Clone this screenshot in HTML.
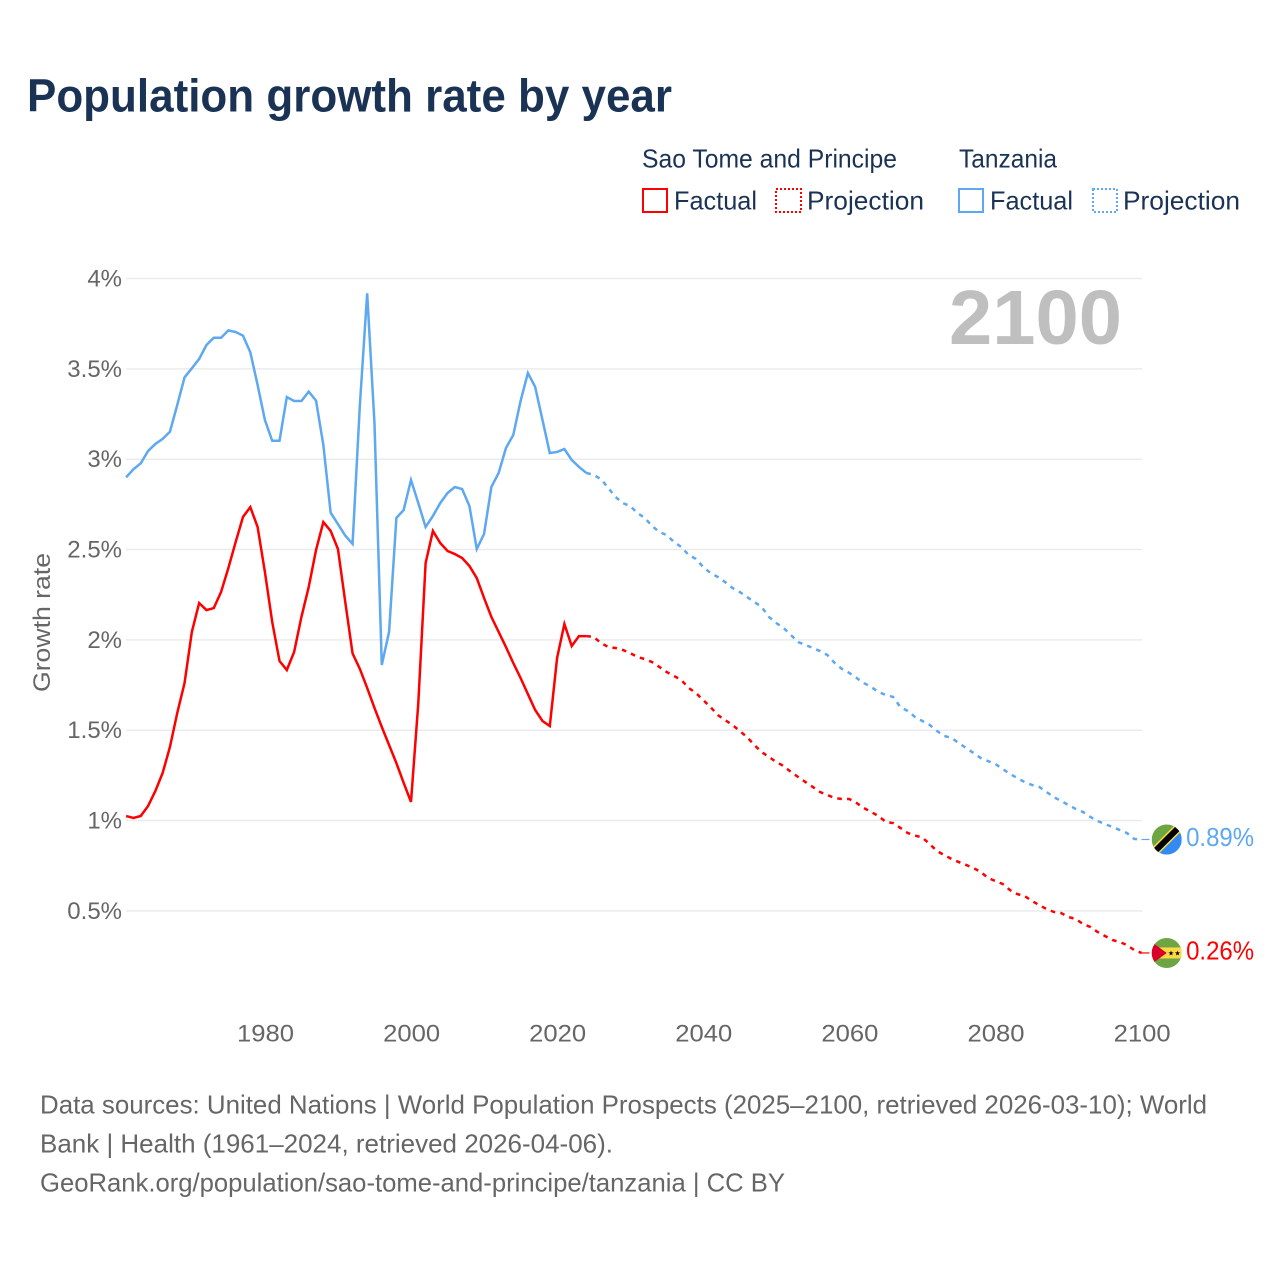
<!DOCTYPE html>
<html lang="en">
<head>
<meta charset="utf-8">
<title>Population growth rate by year</title>
<style>
html,body{margin:0;padding:0;background:#fff;}
svg{display:block;font-family:"Liberation Sans",sans-serif;}
</style>
</head>
<body>
<svg id="chart" xmlns="http://www.w3.org/2000/svg" width="1280" height="1280" viewBox="0 0 1280 1280">
  <rect x="0" y="0" width="1280" height="1280" fill="#ffffff"/>
  <text x="27" y="111.5" font-size="46" font-weight="700" fill="#1a3354" textLength="645" lengthAdjust="spacingAndGlyphs">Population growth rate by year</text>

  <g font-size="26" fill="#1a3354">
    <text x="642" y="167.5" textLength="255" lengthAdjust="spacingAndGlyphs">Sao Tome and Principe</text>
    <text x="959" y="167.5" textLength="98" lengthAdjust="spacingAndGlyphs">Tanzania</text>
    <g>
      <rect x="643" y="189" width="24" height="23" fill="none" stroke="#ff0000" stroke-width="2"/>
      <text x="674" y="209.5" textLength="83" lengthAdjust="spacingAndGlyphs">Factual</text>
    </g>
    <g>
      <rect x="776" y="189" width="25" height="23" fill="none" stroke="#ff0000" stroke-width="2" stroke-dasharray="2 2"/>
      <text x="807" y="209.5" textLength="117" lengthAdjust="spacingAndGlyphs">Projection</text>
    </g>
    <g>
      <rect x="959" y="189" width="24" height="23" fill="none" stroke="#5da8f0" stroke-width="2"/>
      <text x="990" y="209.5" textLength="83" lengthAdjust="spacingAndGlyphs">Factual</text>
    </g>
    <g>
      <rect x="1093" y="189" width="24" height="23" fill="none" stroke="#5da8f0" stroke-width="2" stroke-dasharray="2 2"/>
      <text x="1123" y="209.5" textLength="117" lengthAdjust="spacingAndGlyphs">Projection</text>
    </g>
  </g>

  <g id="grid"></g>
  <g id="y-axis"></g>
  <g id="x-axis"></g>

  <text transform="translate(50,692) rotate(-90)" font-size="24" fill="#666666" textLength="139" lengthAdjust="spacingAndGlyphs">Growth rate</text>
  <text x="949" y="344" font-size="77" font-weight="700" fill="#bfbfbf" textLength="173" lengthAdjust="spacingAndGlyphs">2100</text>

  <g id="series"></g>

  <defs>
    <clipPath id="flag-clip"><circle cx="0" cy="0" r="15"/></clipPath>
  </defs>
  <g id="flag-tanzania">
    <g clip-path="url(#flag-clip)">
      <rect x="-15" y="-15" width="30" height="30" fill="#6da544"/>
      <polygon points="15,-15 15,15 -15,15" fill="#338af3"/>
      <line x1="-15" y1="15" x2="15" y2="-15" stroke="#ffda44" stroke-width="9"/>
      <line x1="-15" y1="15" x2="15" y2="-15" stroke="#000000" stroke-width="6"/>
    </g>
  </g>
  <g id="flag-sao-tome">
    <g clip-path="url(#flag-clip)">
      <rect x="-15" y="-15" width="30" height="30" fill="#6da544"/>
      <rect x="-15" y="-5.5" width="30" height="11" fill="#ffda44"/>
      <polygon points="-15,-11 0,0 -15,11 -17,0" fill="#d80027"/>
      <text x="4.3" y="2.6" font-size="7" text-anchor="middle" fill="#000000">★</text>
      <text x="10.8" y="2.6" font-size="7" text-anchor="middle" fill="#000000">★</text>
    </g>
  </g>

  <g id="value-labels" font-size="25.5"></g>

  <g font-size="26" fill="#666666">
    <text x="40" y="1113.5" textLength="1167" lengthAdjust="spacingAndGlyphs">Data sources: United Nations | World Population Prospects (2025–2100, retrieved 2026-03-10); World</text>
    <text x="40" y="1152.5" textLength="573" lengthAdjust="spacingAndGlyphs">Bank | Health (1961–2024, retrieved 2026-04-06).</text>
    <text x="40" y="1191.5" textLength="745" lengthAdjust="spacingAndGlyphs">GeoRank.org/population/sao-tome-and-principe/tanzania | CC BY</text>
  </g>
</svg>

<script>
const firstYear = 1961;
const lastFactualYear = 2024;
const lastYear = 2100;

const yTicks = [0.5, 1, 1.5, 2, 2.5, 3, 3.5, 4];
const yTickLabels = ['0.5%', '1%', '1.5%', '2%', '2.5%', '3%', '3.5%', '4%'];
const xTicks = [1980, 2000, 2020, 2040, 2060, 2080, 2100];
const xTickLabels = ['1980', '2000', '2020', '2040', '2060', '2080', '2100'];
const endValueLabels = ['0.89%', '0.26%'];

// Annual growth rate (%) — factual 1961..2024
const tanzaniaFactual = [
  2.900,2.944,2.977,3.045,3.084,3.112,3.152,3.300,3.453,3.503,
  3.555,3.632,3.672,3.672,3.713,3.704,3.684,3.592,3.411,3.217,
  3.102,3.102,3.344,3.322,3.322,3.374,3.324,3.079,2.704,2.641,
  2.577,2.531,3.300,3.918,3.199,1.861,2.044,2.675,2.719,2.885,
  2.757,2.625,2.686,2.757,2.813,2.846,2.835,2.741,2.503,2.586,
  2.846,2.924,3.062,3.134,3.322,3.477,3.400,3.217,3.034,3.040,
  3.056,2.996,2.957,2.924
];
// Projection 2025..2100
const tanzaniaProjection = [
  2.913,2.890,2.841,2.791,2.757,2.741,2.702,2.675,2.630,2.597,
  2.580,2.542,2.514,2.470,2.448,2.403,2.370,2.348,2.320,2.287,
  2.265,2.237,2.210,2.182,2.127,2.093,2.066,2.027,1.988,1.972,
  1.955,1.938,1.916,1.872,1.839,1.817,1.789,1.761,1.739,1.711,
  1.695,1.684,1.628,1.606,1.573,1.551,1.529,1.496,1.468,1.457,
  1.429,1.401,1.374,1.346,1.329,1.313,1.285,1.258,1.235,1.213,
  1.197,1.186,1.158,1.130,1.108,1.086,1.064,1.047,1.020,0.997,
  0.981,0.964,0.948,0.931,0.898,0.895
];
const saoTomeFactual = [
  1.025,1.014,1.025,1.080,1.163,1.263,1.407,1.595,1.761,2.044,
  2.204,2.165,2.176,2.265,2.398,2.542,2.680,2.735,2.625,2.376,
  2.099,1.883,1.833,1.933,2.127,2.293,2.497,2.652,2.603,2.503,
  2.210,1.925,1.839,1.734,1.623,1.518,1.418,1.318,1.208,1.103,
  1.651,2.425,2.603,2.536,2.492,2.475,2.453,2.409,2.342,2.232,
  2.127,2.044,1.960,1.872,1.789,1.700,1.612,1.551,1.523,1.900,
  2.088,1.966,2.021,2.021
];
const saoTomeProjection = [
  2.016,1.983,1.960,1.955,1.944,1.927,1.905,1.894,1.877,1.850,
  1.822,1.800,1.778,1.734,1.706,1.667,1.628,1.584,1.556,1.529,
  1.496,1.462,1.418,1.379,1.352,1.324,1.302,1.269,1.241,1.213,
  1.186,1.158,1.141,1.125,1.119,1.119,1.097,1.069,1.047,1.025,
  0.992,0.986,0.959,0.931,0.917,0.906,0.870,0.831,0.809,0.787,
  0.770,0.754,0.737,0.715,0.682,0.665,0.649,0.615,0.593,0.582,
  0.555,0.532,0.510,0.494,0.488,0.466,0.455,0.427,0.411,0.383,
  0.361,0.339,0.328,0.311,0.283,0.267
];

const SVG_NS = 'http://www.w3.org/2000/svg';
const RED = '#ff0000';
const BLUE = '#5da8f0';

function xScale(year) { return 411.0 + (year - 2000) * 7.305; }
function yScale(value) { return 1001.2 - value * 180.67; }

function make(tag, attrs, parent) {
  const el = document.createElementNS(SVG_NS, tag);
  Object.keys(attrs).forEach(function (k) { el.setAttribute(k, attrs[k]); });
  parent.appendChild(el);
  return el;
}

const gridGroup = document.getElementById('grid');
const yGroup = document.getElementById('y-axis');
const xGroup = document.getElementById('x-axis');
const seriesGroup = document.getElementById('series');
const valueGroup = document.getElementById('value-labels');

yTicks.forEach(function (tick, i) {
  const line = make('line', {
    x1: xScale(firstYear), x2: xScale(lastYear) + 0.6,
    y1: yScale(tick), y2: yScale(tick),
    stroke: '#ebebeb', 'stroke-width': 1.5
  }, gridGroup);
  
  

  const label = make('text', {
    x: 122, y: yScale(tick) + 8, 'text-anchor': 'end',
    'font-size': 24, fill: '#666666'
  }, yGroup);
  label.textContent = yTickLabels[i];
  
  
});

xTicks.forEach(function (tick, i) {
  const label = make('text', {
    x: xScale(tick) - 27.9, y: 1041.5,
    'font-size': 24.5, fill: '#666666',
    textLength: 57, lengthAdjust: 'spacingAndGlyphs'
  }, xGroup);
  label.textContent = xTickLabels[i];
  
  
});

function pathFrom(values, startYear) {
  return values.map(function (v, i) {
    return (i === 0 ? 'M' : 'L') + xScale(startYear + i).toFixed(2) + ' ' + yScale(v).toFixed(2);
  }).join(' ');
}

function projectionPath(factual, projection) {
  const lastPoint = factual[factual.length - 1];
  return pathFrom([lastPoint].concat(projection), lastFactualYear);
}

function lineAttrs(d, color, dashed) {
  const attrs = { d: d, fill: 'none', stroke: color, 'stroke-width': 2.5, 'stroke-linejoin': 'miter' };
  if (dashed) { attrs['stroke-dasharray'] = '4.6 5.2'; }
  return attrs;
}

const tzFactualLine = make('path', lineAttrs(pathFrom(tanzaniaFactual, firstYear), BLUE, false), seriesGroup);



const tzProjectionLine = make('path', lineAttrs(projectionPath(tanzaniaFactual, tanzaniaProjection), BLUE, true), seriesGroup);



const stFactualLine = make('path', lineAttrs(pathFrom(saoTomeFactual, firstYear), RED, false), seriesGroup);



const stProjectionLine = make('path', lineAttrs(projectionPath(saoTomeFactual, saoTomeProjection), RED, true), seriesGroup);



const tzEnd = tanzaniaProjection[tanzaniaProjection.length - 1];
const stEnd = saoTomeProjection[saoTomeProjection.length - 1];

const tzConnector = make('line', { x1: xScale(lastYear), x2: xScale(lastYear) + 8, y1: yScale(tzEnd), y2: yScale(tzEnd), stroke: BLUE, 'stroke-width': 1.2 }, seriesGroup);



const stConnector = make('line', { x1: xScale(lastYear), x2: xScale(lastYear) + 8, y1: yScale(stEnd), y2: yScale(stEnd), stroke: RED, 'stroke-width': 1.2 }, seriesGroup);



document.getElementById('flag-tanzania').setAttribute('transform', 'translate(' + (xScale(lastYear) + 25.2) + ',' + yScale(tzEnd) + ')');
document.getElementById('flag-sao-tome').setAttribute('transform', 'translate(' + (xScale(lastYear) + 25.2) + ',' + yScale(stEnd) + ')');

const tzLabel = make('text', { x: xScale(lastYear) + 44.6, y: yScale(tzEnd) + 6.5, fill: BLUE, textLength: 68, lengthAdjust: 'spacingAndGlyphs' }, valueGroup);
tzLabel.textContent = endValueLabels[0];



const stLabel = make('text', { x: xScale(lastYear) + 44.6, y: yScale(stEnd) + 6.5, fill: RED, textLength: 68, lengthAdjust: 'spacingAndGlyphs' }, valueGroup);
stLabel.textContent = endValueLabels[1];


</script>
</body>
</html>
